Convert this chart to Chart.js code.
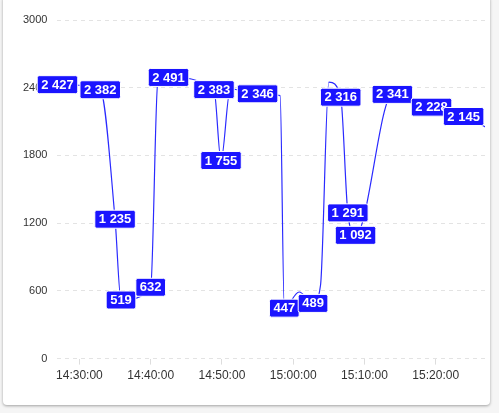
<!DOCTYPE html>
<html><head><meta charset="utf-8">
<script src="https://cdn.jsdelivr.net/npm/chart.js@4"></script>
<style>
html,body{margin:0;padding:0;background:#f5f5f5;}
#card{position:absolute;left:3px;top:-4px;width:487px;height:409px;background:#fff;border-radius:4px;box-shadow:0 1px 3px rgba(0,0,0,0.35);}
#wrap{position:absolute;left:0;top:0;width:487px;height:409px;}
</style></head><body>
<div id="card"><div id="wrap"><canvas id="c"></canvas></div></div>
<script>
const times  = ["14:26:55","14:32:55","14:35:00","14:35:50","14:40:00","14:41:00","14:42:30","14:48:53","14:49:52","14:51:10","14:55:00","14:58:10","14:58:45","15:00:50","15:02:47","15:03:50","15:05:00","15:06:40","15:07:40","15:08:45","15:13:55","15:19:25","15:23:55","15:28:00"];
const values = [2427,2382,1235,519,632,2450,2491,2383,1755,2390,2346,2330,447,590,489,650,2450,2316,1291,1092,2341,2228,2145,2020];
const labelShown = [1,1,1,1,1,0,1,1,1,0,1,0,1,0,1,0,0,1,1,1,1,1,1,0];
const yTicks = [0,600,1200,1800,2400,3000];
const xMin = "14:26:55", xMax = "15:26:55";

const toSec = t => { const [h,m,s] = t.split(":").map(Number); return h*3600+m*60+s; };
const fmt = v => { const h=Math.floor(v/3600), m=Math.floor(v%3600/60), s=v%60; return [h,m,s].map(x=>String(x).padStart(2,"0")).join(":"); };
const pts = times.map((t,i)=>({x:toSec(t), y:values[i]}));

const labelPlugin = {
  id:'boxLabels',
  afterDatasetsDraw(chart){
    const ctx = chart.ctx, meta = chart.getDatasetMeta(0), xs = chart.scales.x;
    ctx.save();
    ctx.font = 'bold 13px Arial, "Liberation Sans", sans-serif';
    ctx.textAlign='center'; ctx.textBaseline='middle';
    meta.data.forEach((p,i)=>{
      const v = pts[i];
      if (!labelShown[i] || v.x < xs.min || v.x > xs.max) return;
      const txt = values[i].toLocaleString('fr-FR').replace(/\s/g,' ');
      const w = ctx.measureText(txt).width + 8, h = 18;
      const x = p.x - w/2, y = p.y - h/2;
      ctx.fillStyle = '#1a14ff';
      ctx.strokeStyle = '#ffffff'; ctx.lineWidth = 1;
      ctx.beginPath(); ctx.roundRect(x,y,w,h,2); ctx.fill(); ctx.stroke();
      ctx.fillStyle = '#fff';
      ctx.fillText(txt, p.x, p.y+0.5);
    });
    ctx.restore();
  }
};

new Chart(document.getElementById('c'), {
  type:'line',
  data:{datasets:[{data:pts, borderColor:'#2a2aff', borderWidth:1.2, pointRadius:0, cubicInterpolationMode:'monotone', fill:false}]},
  options:{
    responsive:true, maintainAspectRatio:false, animation:false,
    layout:{padding:{left:10,right:5,top:24,bottom:18}},
    plugins:{legend:{display:false}, tooltip:{enabled:false}},
    scales:{
      x:{type:'linear', min:toSec(xMin), max:toSec(xMax),
        afterBuildTicks(ax){ ax.ticks = []; for(let v=Math.ceil(ax.min/600)*600; v<=ax.max; v+=600) ax.ticks.push({value:v}); },
        ticks:{callback:v=>fmt(v), color:'#333', font:{size:12, family:'Arial, "Liberation Sans", sans-serif'}, maxRotation:0, padding:4},
        grid:{drawOnChartArea:false, tickLength:6, color:'#ddd'}, border:{display:false}},
      y:{min:0, max:3000,
        afterBuildTicks(ax){ ax.ticks = yTicks.map(v=>({value:v})); },
        ticks:{callback:v=>String(v), color:'#333', font:{size:11, family:'Arial, "Liberation Sans", sans-serif'}, padding:10},
        grid:{color:'#e3e3e3', drawTicks:false}, border:{display:false, dash:[4,4]}}
    }
  },
  plugins:[labelPlugin]
});
</script></body></html>
